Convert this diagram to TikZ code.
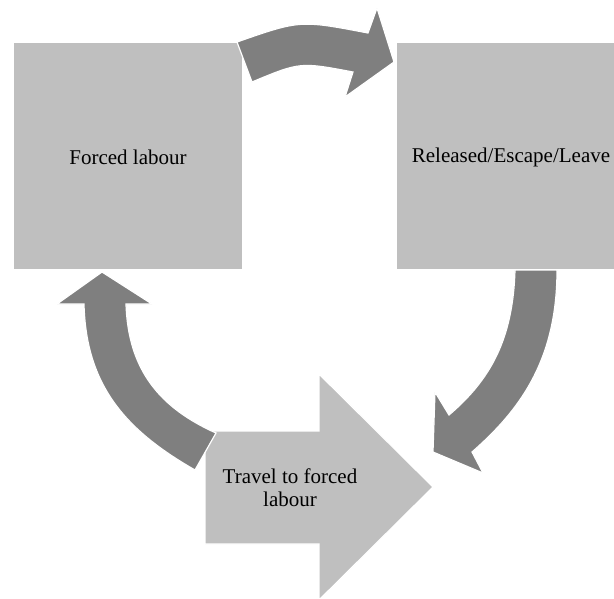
\documentclass[tikz,border=0pt]{standalone}
\usepackage{fontspec}
\newfontfamily\labelfont{Liberation Serif}
\begin{document}
\begin{tikzpicture}[x=1pt,y=-1pt,
  stage/.style={fill=boxgray,draw=white,line width=1.2pt},
  flow/.style={fill=arrowgray,draw=white,line width=1.2pt},
  lbl/.style={font=\labelfont\fontsize{21}{23}\selectfont,align=center,text=black}]
\definecolor{boxgray}{HTML}{BFBFBF}
\definecolor{arrowgray}{HTML}{7F7F7F}
\useasboundingbox (0,0) rectangle (614,598);
\clip (0,0) rectangle (614,598);

% stages
\path[stage] (13,42) rectangle (243,270);
\path[stage] (396,42) rectangle (626,270);
\node[lbl] (forced) at (128,157) {Forced labour};
\node[lbl] (release) at (511,157) {Released/Escape/Leave};

% big block arrow
\path[stage] (205,431) -- (319,431) -- (319,374) -- (433,487) -- (319,600)
  -- (319,544) -- (205,544) -- cycle;
\node[lbl] (travel) at (290,488) {Travel to forced\\labour};

% curved arrow: forced labour -> released
\path[flow] (252,82) -- (237,42) .. controls (300,20) .. (368,33)
  -- (377,8) -- (394,62) -- (345,97) -- (353,72)
  .. controls (300,62) .. (252,82) -- cycle;

% curved arrow: released -> travel
\path[flow] (515,270) -- (557,270)
  .. controls (557,360) and (520,410) .. (472,452)
  -- (483,473) -- (433,452) -- (435,392) -- (449,415)
  .. controls (490,380) and (513,340) .. (515,270) -- cycle;

% curved arrow: travel -> forced labour
\path[flow] (195,470) .. controls (125,430) and (86,385) .. (84,304)
  -- (57,304) -- (102,272) -- (152,304) -- (126,304)
  .. controls (128,370) and (160,408) .. (216,433) -- cycle;
\end{tikzpicture}
\end{document}
